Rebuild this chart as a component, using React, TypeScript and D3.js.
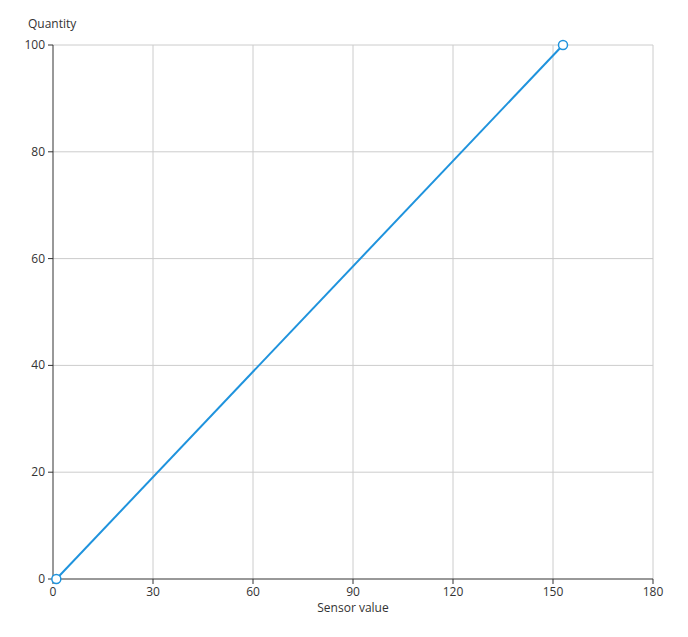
import React from "react";
import * as d3 from "d3";

const sensorValues = [1, 153];
const quantities = [0, 100];
const xTicks = [0, 30, 60, 90, 120, 150, 180];
const yTicks = [0, 20, 40, 60, 80, 100];

export default function App() {
  const W = 688, H = 637;
  const left = 53, right = 653, top = 45, bottom = 579;
  const x = d3.scaleLinear().domain([0, 180]).range([left, right]);
  const y = d3.scaleLinear().domain([0, 100]).range([bottom, top]);
  const pts = sensorValues.map((v, i) => [v, quantities[i]] as [number, number]);
  const line = d3.line<[number, number]>().x(d => x(d[0])).y(d => y(d[1]));
  const font = "'Open Sans', 'Noto Sans', sans-serif";
  return (
    <svg width={W} height={H} style={{ position: "absolute", left: 0, top: 0, fontFamily: font }}>
      <rect width={W} height={H} fill="#fff" />
      {xTicks.filter(t => t > 0).map(t => (
        <line key={"gx" + t} x1={x(t)} x2={x(t)} y1={top} y2={bottom} stroke="#ccc" strokeWidth={1} />
      ))}
      {yTicks.filter(t => t > 0).map(t => (
        <line key={"gy" + t} x1={left} x2={right} y1={y(t)} y2={y(t)} stroke="#ccc" strokeWidth={1} />
      ))}
      <line x1={left} x2={left} y1={top} y2={bottom} stroke="#333" strokeWidth={1} />
      <line x1={left} x2={right} y1={bottom} y2={bottom} stroke="#333" strokeWidth={1} />
      {xTicks.map(t => (
        <g key={"tx" + t}>
          <line x1={x(t)} x2={x(t)} y1={bottom} y2={bottom + 5} stroke="#333" />
          <text x={x(t)} y={bottom + 17} textAnchor="middle" fontSize={12} fill="#333">{t}</text>
        </g>
      ))}
      {yTicks.map(t => (
        <g key={"ty" + t}>
          <line x1={left - 5} x2={left} y1={y(t)} y2={y(t)} stroke="#333" />
          <text x={left - 8} y={y(t) + 4} textAnchor="end" fontSize={12} fill="#333">{t}</text>
        </g>
      ))}
      <text x={353} y={612} textAnchor="middle" fontSize={12} fill="#333">Sensor value</text>
      <text x={28} y={28} fontSize={12} fill="#333">Quantity</text>
      <path d={line(pts) || ""} fill="none" stroke="#1f93dd" strokeWidth={2} />
      {pts.map((p, i) => (
        <circle key={i} cx={x(p[0])} cy={y(p[1])} r={4.5} fill="#fff" stroke="#1f93dd" strokeWidth={1.5} />
      ))}
    </svg>
  );
}
